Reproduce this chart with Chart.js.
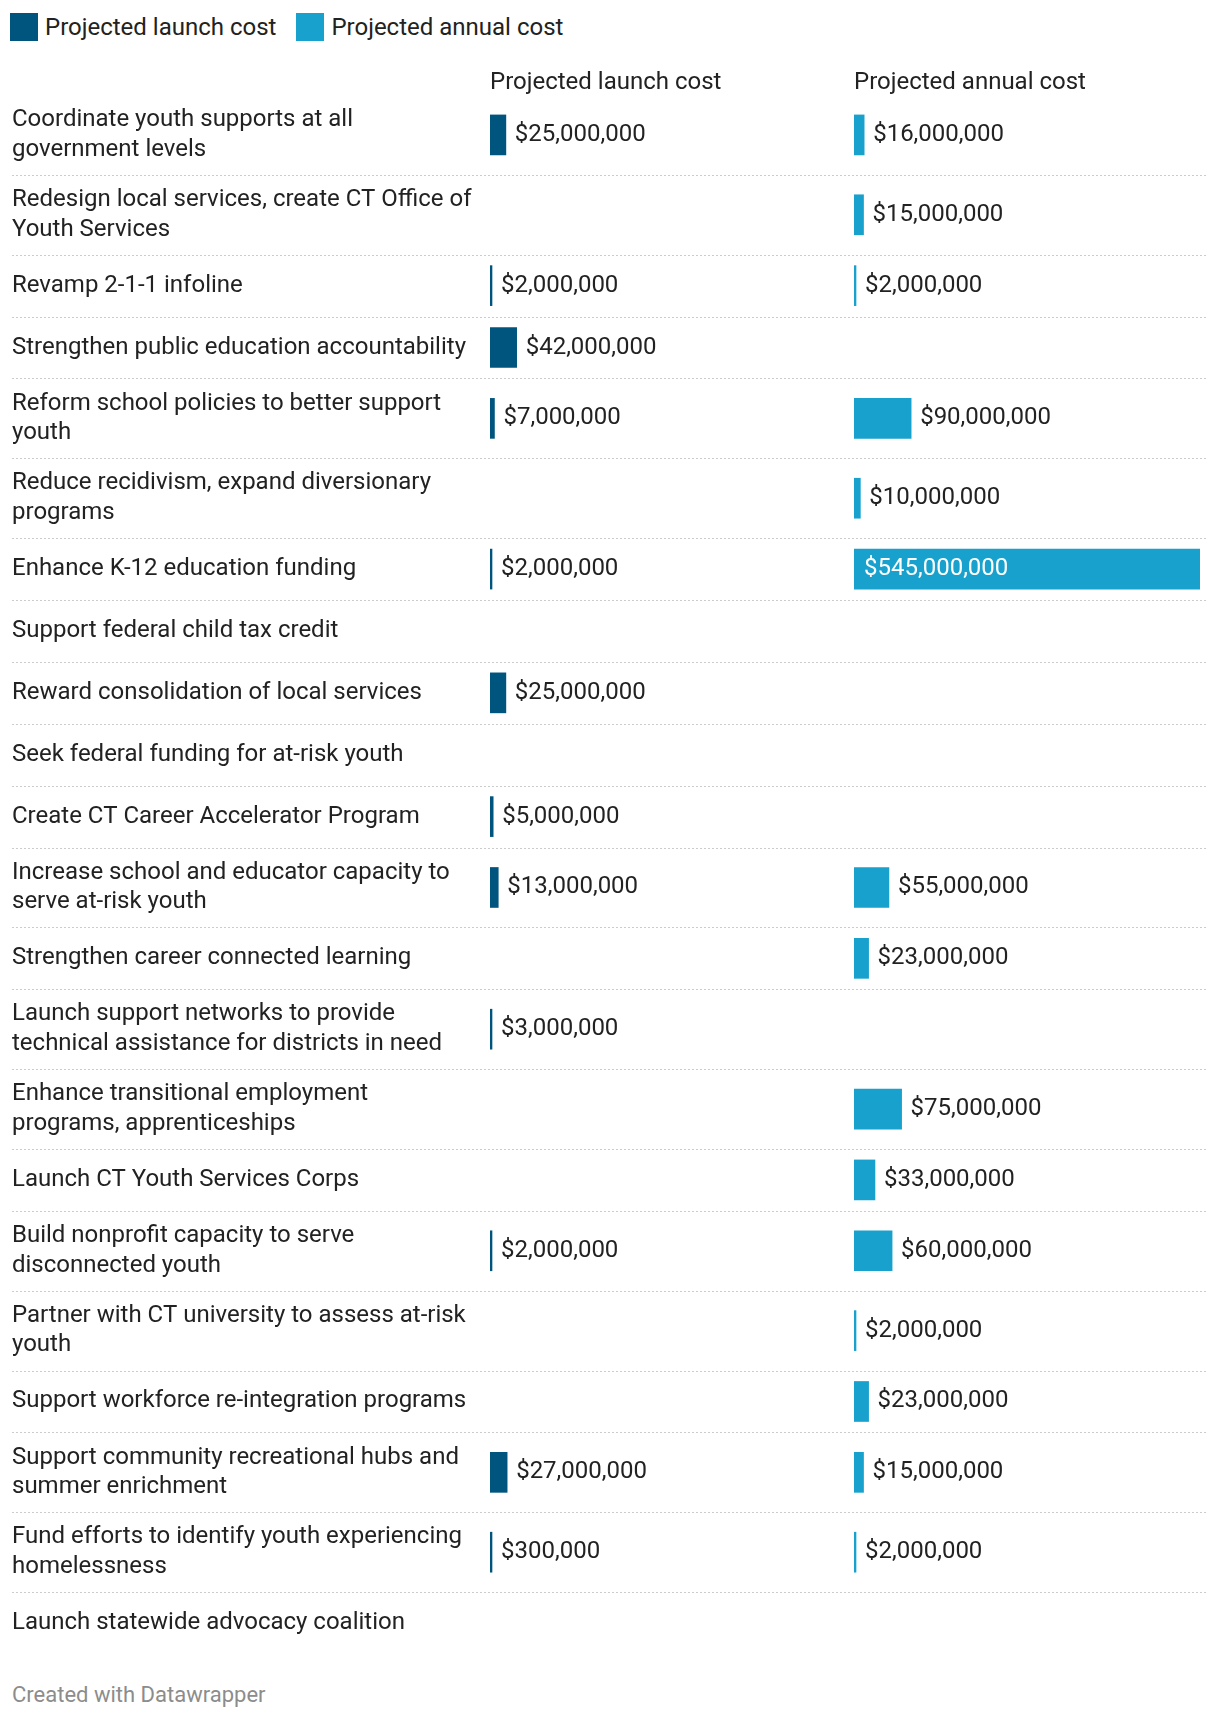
<!DOCTYPE html>
<html>
<head>
<meta charset="utf-8">
<title>Projected launch and annual costs</title>
<script src="https://cdn.jsdelivr.net/npm/chart.js@4/dist/chart.umd.min.js"></script>
<style>
  body { margin: 0; background: #fff; font-family: Roboto, sans-serif; color: #222; }
  #page { position: relative; width: 1220px; height: 1718px; overflow: hidden; }
  #legend { position: absolute; top: 13px; left: 10px; display: flex; font-size: 24px; line-height: 28px; }
  .legend-item { display: flex; align-items: center; margin-right: 20px; }
  .legend-box { width: 28px; height: 28px; margin-right: 7px; }
  #chartWrap { position: absolute; top: 50px; left: 0; width: 1220px; height: 1609px; }
  #footer { position: absolute; left: 12px; top: 1682px; font-size: 22px; line-height: 26px; color: #8c8c8c; }
</style>
</head>
<body>
<div id="page">
  <div id="legend"></div>
  <div id="chartWrap"><canvas id="costChart"></canvas></div>
  <div id="footer">Created with Datawrapper</div>
</div>

<script>
// ============================
// Data
// ============================
const rowLabels = [
  ["Coordinate youth supports at all", "government levels"],
  ["Redesign local services, create CT Office of", "Youth Services"],
  ["Revamp 2-1-1 infoline"],
  ["Strengthen public education accountability"],
  ["Reform school policies to better support", "youth"],
  ["Reduce recidivism, expand diversionary", "programs"],
  ["Enhance K-12 education funding"],
  ["Support federal child tax credit"],
  ["Reward consolidation of local services"],
  ["Seek federal funding for at-risk youth"],
  ["Create CT Career Accelerator Program"],
  ["Increase school and educator capacity to", "serve at-risk youth"],
  ["Strengthen career connected learning"],
  ["Launch support networks to provide", "technical assistance for districts in need"],
  ["Enhance transitional employment", "programs, apprenticeships"],
  ["Launch CT Youth Services Corps"],
  ["Build nonprofit capacity to serve", "disconnected youth"],
  ["Partner with CT university to assess at-risk", "youth"],
  ["Support workforce re-integration programs"],
  ["Support community recreational hubs and", "summer enrichment"],
  ["Fund efforts to identify youth experiencing", "homelessness"],
  ["Launch statewide advocacy coalition"]
];

const launchCost = [
  25000000, null, 2000000, 42000000, 7000000, null, 2000000, null, 25000000, null, 5000000,
  13000000, null, 3000000, null, null, 2000000, null, null, 27000000, 300000, null
];

const annualCost = [
  16000000, 15000000, 2000000, null, 90000000, 10000000, 545000000, null, null, null, null,
  55000000, 23000000, null, 75000000, 33000000, 60000000, 2000000, 23000000, 15000000, 2000000, null
];

const seriesNames = ["Projected launch cost", "Projected annual cost"];
const seriesColors = ["#00557f", "#18a1cd"];

// ============================
// Layout constants
// ============================
const LABEL_COL = 478;   // width of the text column
const LAUNCH_COL = 364;  // width of the launch cost column
const ANNUAL_COL = 346;  // width of the annual cost column
const LINE_H = 29.5;
const ROW_PAD = 21;
const MIN_ROW_H = 62;    // one-line rows are as tall as the bar needs

// rows with wrapped labels are taller
const rowHeights = rowLabels.map(l => Math.max(MIN_ROW_H, l.length * LINE_H + ROW_PAD));
const rowEdges = [0];
rowHeights.forEach(h => rowEdges.push(rowEdges[rowEdges.length - 1] + h));
const rowCenters = rowHeights.map((h, i) => rowEdges[i] + h / 2);
const totalRows = rowEdges[rowEdges.length - 1];

// both bar columns share one scale (px per dollar)
const maxCost = Math.max(...launchCost.concat(annualCost).filter(v => v != null));

function toBars(values) {
  return values
    .map((v, i) => (v == null ? null : { x: v, y: rowCenters[i] }))
    .filter(Boolean);
}

function formatUSD(v) {
  return "$" + v.toLocaleString("en-US");
}

// ============================
// Plugins
// ============================
const rowLinesPlugin = {
  id: "rowLines",
  beforeDatasetsDraw(chart) {
    const { ctx, scales: { y } } = chart;
    ctx.save();
    ctx.strokeStyle = "#cccccc";
    ctx.lineWidth = 1;
    ctx.setLineDash([2, 2]);
    rowEdges.slice(1, -1).forEach(v => {
      const py = Math.round(y.getPixelForValue(v)) + 0.5;
      ctx.beginPath();
      ctx.moveTo(12, py);
      ctx.lineTo(chart.width - 12, py);
      ctx.stroke();
    });
    ctx.restore();
  }
};

const valueLabelsPlugin = {
  id: "valueLabels",
  afterDatasetsDraw(chart) {
    const { ctx } = chart;
    ctx.save();
    ctx.font = "24px Roboto";
    ctx.textBaseline = "middle";
    ctx.textAlign = "left";
    chart.data.datasets.forEach((ds, i) => {
      const meta = chart.getDatasetMeta(i);
      const xScale = chart.scales[meta.xAxisID];
      meta.data.forEach((bar, j) => {
        const text = formatUSD(ds.data[j].x);
        const w = ctx.measureText(text).width;
        if (bar.x + 9 + w > xScale.right) {
          // no room on the right: put it inside the bar
          ctx.fillStyle = "#fff";
          ctx.fillText(text, bar.base + 10, bar.y);
        } else {
          ctx.fillStyle = "#222";
          ctx.fillText(text, bar.x + 9, bar.y);
        }
      });
    });
    ctx.restore();
  }
};

// ============================
// Chart
// ============================
Chart.defaults.font.family = "Roboto";
Chart.defaults.color = "#222";

function columnAxis(title, max, weight, order) {
  return {
    type: "linear",
    position: "top",
    stack: "columns",
    stackWeight: weight,
    weight: order,
    min: 0,
    max: max,
    grid: { display: false, drawTicks: false },
    border: { display: false },
    ticks: { display: false },
    title: {
      display: true,
      text: title,
      align: "start",
      color: "#222",
      font: { size: 24, lineHeight: 1 },
      padding: { top: 21, bottom: 0 }
    }
  };
}

const canvas = document.getElementById("costChart");
const costChart = new Chart(canvas.getContext("2d"), {
  type: "bar",
  data: {
    datasets: [
      {
        label: seriesNames[0],
        data: toBars(launchCost),
        backgroundColor: seriesColors[0],
        xAxisID: "x",
        yAxisID: "y"
      },
      {
        label: seriesNames[1],
        data: toBars(annualCost),
        backgroundColor: seriesColors[1],
        xAxisID: "x2",
        yAxisID: "y"
      }
    ]
  },
  options: {
    indexAxis: "y",
    responsive: true,
    maintainAspectRatio: false,
    animation: false,
    layout: { autoPadding: false, padding: { top: 0, left: 12, right: 20, bottom: 5 } },
    datasets: {
      bar: { grouped: false, barThickness: 40, minBarLength: 2, borderWidth: 0 }
    },
    plugins: {
      legend: { display: false },
      tooltip: { enabled: false }
    },
    scales: {
      // top boxes are laid out in reverse, so launch gets the higher weight
      x: columnAxis(seriesNames[0], maxCost * LAUNCH_COL / ANNUAL_COL, LAUNCH_COL, 1),
      x2: columnAxis(seriesNames[1], maxCost, ANNUAL_COL, 0),
      y: {
        type: "linear",
        position: "left",
        reverse: true,
        offset: false,
        min: 0,
        max: totalRows,
        grid: { display: false, drawTicks: false },
        border: { display: false },
        afterBuildTicks(scale) {
          scale.ticks = rowCenters.map(v => ({ value: v }));
        },
        afterFit(scale) {
          scale.width = LABEL_COL;
          scale.paddingTop = 0;
          scale.paddingBottom = 0;
        },
        ticks: {
          autoSkip: false,
          crossAlign: "far",
          padding: 0,
          color: "#222",
          font: { size: 24, lineHeight: LINE_H / 24 },
          callback: (value, index) => rowLabels[index]
        }
      }
    }
  },
  plugins: [rowLinesPlugin, valueLabelsPlugin]
});

// ============================
// HTML legend
// ============================
const legendEl = document.getElementById("legend");
costChart.data.datasets.forEach(ds => {
  const item = document.createElement("div");
  item.className = "legend-item";
  const box = document.createElement("span");
  box.className = "legend-box";
  box.style.background = ds.backgroundColor;
  const label = document.createElement("span");
  label.textContent = ds.label;
  item.appendChild(box);
  item.appendChild(label);
  legendEl.appendChild(item);
});
</script>
</body>
</html>
